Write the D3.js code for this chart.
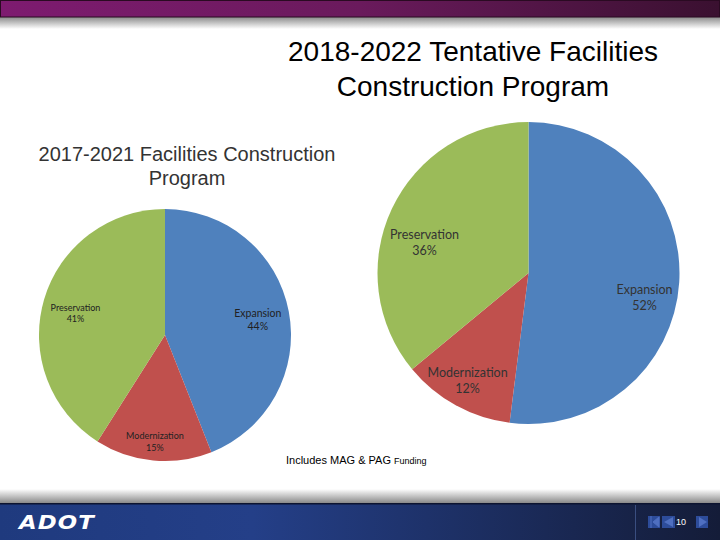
<!DOCTYPE html>
<html><head><meta charset="utf-8">
<script src="https://cdn.jsdelivr.net/npm/d3@7"></script>
<style>html,body{margin:0;padding:0;background:#fff;}svg{display:block;}</style>
</head><body>
<script>
const categories = ["Expansion", "Modernization", "Preservation"];
const values2017 = [44, 15, 41];
const values2018 = [52, 12, 36];
const colors = ["#4f81bd", "#c0504d", "#9bbb59"];
const titleLines = ["2018-2022 Tentative Facilities", "Construction Program"];
const subtitleLines = ["2017-2021 Facilities Construction", "Program"];
const footnote = ["Includes MAG & PAG ", "Funding"];
const pageNumber = "10";

const W = 720, H = 540;
const svg = d3.select("body").append("svg").attr("width", W).attr("height", H);
const defs = svg.append("defs");

const gTop = defs.append("linearGradient").attr("id", "gTop");
gTop.append("stop").attr("offset", "0").attr("stop-color", "#7e1b70");
gTop.append("stop").attr("offset", "0.5").attr("stop-color", "#6a1a5c");
gTop.append("stop").attr("offset", "1").attr("stop-color", "#3a1030");
const gTopSh = defs.append("linearGradient").attr("id", "gTopSh").attr("x1", 0).attr("x2", 0).attr("y1", 0).attr("y2", 1);
gTopSh.append("stop").attr("offset", "0").attr("stop-color", "#8a8a8a");
gTopSh.append("stop").attr("offset", "1").attr("stop-color", "#ffffff");
const gBot = defs.append("linearGradient").attr("id", "gBot");
gBot.append("stop").attr("offset", "0").attr("stop-color", "#1f3a7e");
gBot.append("stop").attr("offset", "0.35").attr("stop-color", "#243f88");
gBot.append("stop").attr("offset", "1").attr("stop-color", "#141c38");
const gBotSh = defs.append("linearGradient").attr("id", "gBotSh").attr("x1", 0).attr("x2", 0).attr("y1", 0).attr("y2", 1);
gBotSh.append("stop").attr("offset", "0").attr("stop-color", "#ffffff");
gBotSh.append("stop").attr("offset", "1").attr("stop-color", "#8a8a8a");

// top bar
svg.append("rect").attr("x", 0).attr("y", 17).attr("width", W).attr("height", 12).attr("fill", "url(#gTopSh)");
svg.append("rect").attr("x", 0.5).attr("y", 0.5).attr("width", W - 1).attr("height", 16.5)
  .attr("fill", "url(#gTop)").attr("stroke", "#2a0a22").attr("stroke-width", 1);

// footer
svg.append("rect").attr("x", 0).attr("y", 489).attr("width", W).attr("height", 14).attr("fill", "url(#gBotSh)");
svg.append("rect").attr("x", 0).attr("y", 503).attr("width", W).attr("height", 37).attr("fill", "url(#gBot)");
svg.append("rect").attr("x", 0).attr("y", 503).attr("width", W).attr("height", 1.5).attr("fill", "#0d1430");
svg.append("line").attr("x1", 635.5).attr("x2", 635.5).attr("y1", 505).attr("y2", 540).attr("stroke", "#3a4e80").attr("stroke-width", 1);
svg.append("text").attr("x", 19).attr("y", 529).attr("font-family", "DejaVu Sans").attr("font-weight", "bold")
  .attr("font-style", "italic").attr("font-size", 20).attr("fill", "#fff").attr("letter-spacing", 1)
  .attr("textLength", 76).attr("lengthAdjust", "spacingAndGlyphs").text("ADOT");

// nav icons
const nav = svg.append("g");
nav.append("rect").attr("x", 648).attr("y", 516).attr("width", 12).attr("height", 12).attr("fill", "#2d4c9a");
nav.append("path").attr("d", "M651,516 v12 M659,517 l-6,5 l6,5 z").attr("stroke", "#4f6fc0").attr("fill", "#4f6fc0");
nav.append("rect").attr("x", 662).attr("y", 516).attr("width", 13).attr("height", 12).attr("fill", "#2d4c9a");
nav.append("path").attr("d", "M673,517 l-9,5 l9,5 z").attr("fill", "#4f6fc0");
nav.append("text").attr("x", 676).attr("y", 525).attr("font-family", "Liberation Sans").attr("font-size", 9)
  .attr("fill", "#ffffff").text(pageNumber);
nav.append("rect").attr("x", 696).attr("y", 516).attr("width", 12).attr("height", 12).attr("fill", "#2d4c9a");
nav.append("path").attr("d", "M699,517 l8,5 l-8,5 z").attr("fill", "#4f6fc0");

// titles
svg.append("g").selectAll("text").data(titleLines).join("text")
  .attr("x", 473).attr("y", (d, i) => 61 + i * 35).attr("text-anchor", "middle")
  .attr("font-family", "Liberation Sans, Arial").attr("font-size", 28).attr("fill", "#000").text(d => d);
svg.append("g").selectAll("text").data(subtitleLines).join("text")
  .attr("x", 187).attr("y", (d, i) => 161 + i * 24).attr("text-anchor", "middle")
  .attr("font-family", "Liberation Sans, Arial").attr("font-size", 20).attr("fill", "#333").text(d => d);

const fn = svg.append("text").attr("x", 286).attr("y", 464).attr("font-family", "Liberation Sans, Arial")
  .attr("font-size", 11).attr("fill", "#000");
fn.append("tspan").text(footnote[0]);
fn.append("tspan").attr("font-size", 9).text(footnote[1]);

function drawPie(values, cx, cy, r, labelFactors, offsets, fontSizes, textColor) {
  const data = categories.map((c, i) => ({ cat: c, value: values[i], color: colors[i], idx: i }));
  const pie = d3.pie().sort(null).value(d => d.value).startAngle(0).endAngle(2 * Math.PI);
  const arcs = pie(data);
  const arc = d3.arc().innerRadius(0).outerRadius(r);
  const g = svg.append("g").attr("transform", `translate(${cx},${cy})`);
  g.selectAll("path").data(arcs).join("path").attr("d", arc).attr("fill", d => d.data.color)
    .attr("stroke", "none");
  const lab = g.selectAll("g.lab").data(arcs).join("g").attr("class", "lab")
    .attr("transform", d => {
      const a = (d.startAngle + d.endAngle) / 2;
      const lr = r * labelFactors[d.data.idx];
      const o = offsets[d.data.idx];
      return `translate(${Math.sin(a) * lr + o[0]},${-Math.cos(a) * lr + o[1]})`;
    });
  lab.each(function (d) {
    const fs = fontSizes[d.data.idx];
    const t = d3.select(this).append("text").attr("text-anchor", "middle")
      .attr("font-family", "Lato, 'Open Sans', sans-serif").attr("font-size", fs).attr("fill", textColor);
    t.append("tspan").attr("x", 0).attr("y", -fs * 0.25).text(d.data.cat);
    t.append("tspan").attr("x", 0).attr("y", fs * 1.05).text(d.data.value + "%");
  });
}

drawPie(values2017, 165, 335, 126, [0.75, 0.85, 0.74], [[0, 2], [0, 0], [0, 4]], [10.5, 9, 9], "#222");
drawPie(values2018, 528.5, 273, 151, [0.77, 0.81, 0.71], [[0, 17], [-2, 0], [-7, 15]], [12.5, 12.5, 12.5], "#333");
</script>
</body></html>
